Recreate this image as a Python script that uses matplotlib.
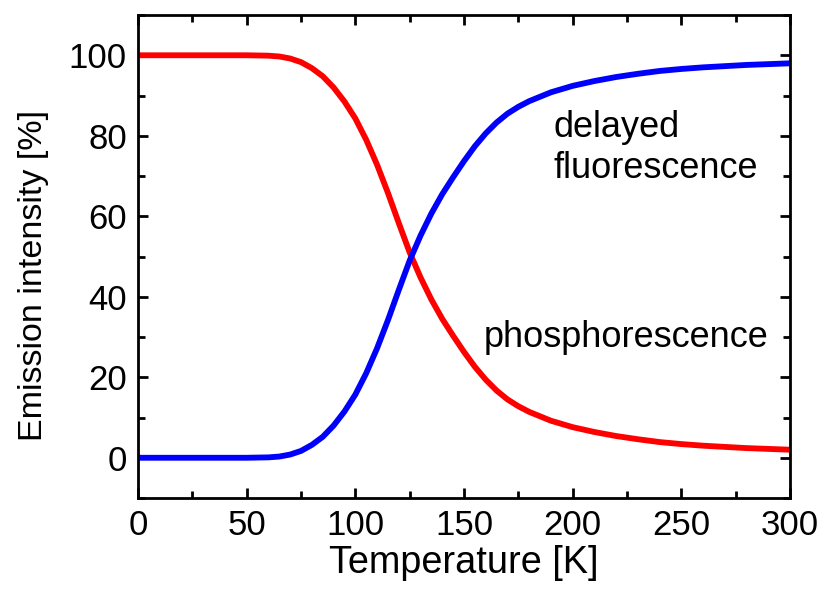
import matplotlib
matplotlib.use('Agg')
import matplotlib.pyplot as plt
from matplotlib.ticker import MultipleLocator

# values
temperature = [0, 20, 40, 50, 60, 65, 70, 75, 80, 85, 90, 95, 100, 105, 110, 115,
               120, 125, 130, 135, 140, 145, 150, 155, 160, 165, 170, 175, 180,
               190, 200, 210, 220, 230, 240, 250, 260, 270, 280, 290, 300]
phosphorescence = [100, 100, 100, 100, 99.9, 99.7, 99.2, 98.3, 96.8, 94.8, 92.0, 88.5,
                   84.3, 79.0, 72.8, 65.8, 58.3, 51.0, 44.8, 39.3, 34.5, 30.3, 26.3,
                   22.6, 19.4, 16.7, 14.5, 12.8, 11.4, 9.2, 7.6, 6.4, 5.4, 4.6, 3.9,
                   3.4, 3.0, 2.7, 2.4, 2.2, 2.0]
delayed_fluorescence = [0, 0, 0, 0, 0.1, 0.3, 0.8, 1.7, 3.2, 5.2, 8.0, 11.5, 15.7, 21.0,
                        27.2, 34.2, 41.7, 49.0, 55.2, 60.7, 65.5, 69.7, 73.7, 77.4, 80.6,
                        83.3, 85.5, 87.2, 88.6, 90.8, 92.4, 93.6, 94.6, 95.4, 96.1, 96.6,
                        97.0, 97.3, 97.6, 97.8, 98.0]

plt.rcParams['font.family'] = ['Liberation Sans', 'DejaVu Sans']

fig = plt.figure(figsize=(8.19, 5.94), dpi=100)
ax = fig.add_axes([0.1685, 0.1616, 0.7961, 0.8131])

ax.plot(temperature, phosphorescence, color='#ff0000', lw=4.2, solid_capstyle='butt')
ax.plot(temperature, delayed_fluorescence, color='#0000ff', lw=4.2, solid_capstyle='butt')

ax.text(191, 77, 'delayed\nfluorescence', ha='left', va='center', linespacing=1.2, fontsize=26)
ax.text(159, 30, 'phosphorescence', ha='left', va='center', fontsize=26)

ax.set_xlim(0, 300)
ax.set_ylim(-10, 110)
ax.xaxis.set_major_locator(MultipleLocator(50))
ax.xaxis.set_minor_locator(MultipleLocator(25))
ax.yaxis.set_minor_locator(MultipleLocator(10))
ax.set_yticks([0, 20, 40, 60, 80, 100])
ax.tick_params(which='both', direction='in', top=True, right=True, width=2, labelsize=25)
ax.tick_params(which='major', length=7, pad=8)
ax.tick_params(which='minor', length=5)
for s in ax.spines.values():
    s.set_linewidth(2)

ax.set_xlabel('Temperature [K]', fontsize=27.3, labelpad=2)
ax.set_ylabel('Emission intensity [%]', fontsize=24.5)
ax.yaxis.set_label_coords(-0.137, 0.46)

fig.savefig('out.png', dpi=100)
